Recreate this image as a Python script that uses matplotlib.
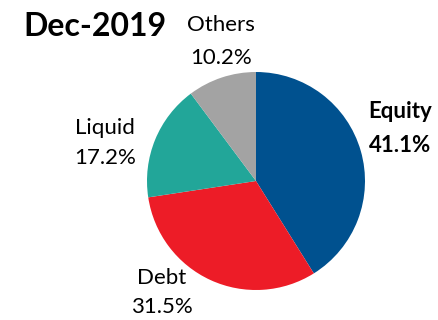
import matplotlib
matplotlib.use("Agg")
import matplotlib.pyplot as plt

plt.rcParams['font.family'] = ['Lato', 'DejaVu Sans']

categories = ["Equity", "Debt", "Liquid", "Others"]
shares = [41.1, 31.5, 17.2, 10.2]
colors = ["#00518F", "#ED1C27", "#22A699", "#A3A3A3"]
title = "Dec-2019"

W, H = 439, 320
fig = plt.figure(figsize=(W / 100, H / 100), dpi=100)

# pie axes: centre (256, 181) px, radius 109 px
cx, cy, r = 256, 181, 109
ax = fig.add_axes([(cx - r) / W, 1 - (cy + r) / H, 2 * r / W, 2 * r / H])
ax.pie(shares, colors=colors, startangle=90, counterclock=False,
       radius=1.0, wedgeprops=dict(linewidth=0))
ax.set_xlim(-1, 1)
ax.set_ylim(-1, 1)
ax.set_aspect('equal')
ax.axis('off')

def px(x, y):
    return x / W, 1 - y / H

fig.text(*px(95, 26), title, fontsize=23, fontweight='bold',
         ha='center', va='center')

label_pos = {
    "Equity": (400, 112, 146, True),
    "Debt": (162, 278, 307, False),
    "Liquid": (105, 128, 158, False),
    "Others": (221, 25, 58, False),
}
for cat, val in zip(categories, shares):
    x, y1, y2, bold = label_pos[cat]
    w = 'bold' if bold else 'normal'
    fig.text(*px(x, y1), cat, fontsize=16, fontweight=w, ha='center', va='center')
    fig.text(*px(x, y2), f"{val:.1f}%", fontsize=16, fontweight=w, ha='center', va='center')

fig.savefig("out.png", dpi=100)
